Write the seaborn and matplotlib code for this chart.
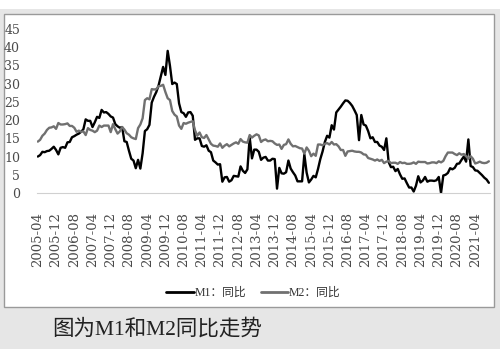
import matplotlib
matplotlib.use('Agg')
import matplotlib.pyplot as plt
import matplotlib.patches as patches
import pandas as pd
import seaborn as sns

# monthly YoY growth (%), 2005-04 .. 2021-10
months = pd.period_range('2005-04', '2021-10', freq='M').strftime('%Y-%m')

m1 = [10.0, 10.4, 11.3, 11.2, 11.5, 11.6, 12.1, 12.7, 11.8,
      10.6, 12.4, 12.6, 12.4, 13.9, 14.0, 15.3, 15.6, 16.0, 16.3, 16.8, 17.5,
      20.2, 19.8, 19.8, 18.1, 19.4, 20.9, 20.6, 22.8, 22.1, 22.2, 21.7, 21.0,
      20.7, 18.9, 18.3, 17.9, 18.1, 14.2, 14.0, 11.6, 9.4, 8.9, 6.8, 9.1,
      6.7, 10.9, 17.0, 17.5, 18.7, 24.8, 26.4, 27.7, 29.5, 32.0, 34.6, 32.4,
      39.0, 34.9, 29.9, 30.3, 29.9, 24.6, 22.2, 21.9, 20.9, 22.1, 22.2, 21.2,
      14.6, 15.0, 15.0, 12.9, 12.7, 13.1, 11.6, 11.2, 8.9, 8.4, 7.8, 7.9,
      3.1, 4.3, 4.4, 3.1, 3.5, 4.7, 4.6, 4.5, 7.3, 6.1, 5.5, 6.5,
      15.3, 9.5, 11.9, 11.9, 11.3, 9.1, 9.7, 9.9, 8.9, 8.9, 9.4, 9.3,
      1.2, 6.9, 5.4, 5.3, 5.7, 8.9, 6.7, 5.7, 4.8, 3.2, 3.2, 3.2,
      10.6, 5.6, 2.9, 3.7, 4.7, 4.3, 6.6, 9.3, 11.4, 14.0, 15.7, 15.2,
      18.6, 17.4, 22.1, 22.9, 23.7, 24.6, 25.4, 25.3, 24.7, 23.9, 22.7, 21.4,
      14.5, 21.4, 18.8, 18.5, 17.0, 15.0, 15.3, 14.0, 14.0, 13.0, 12.7, 11.8,
      15.0, 8.5, 7.1, 7.2, 6.0, 6.6, 5.1, 3.9, 4.0, 2.7, 1.5, 1.5,
      0.4, 2.0, 4.6, 2.9, 3.4, 4.4, 3.1, 3.4, 3.4, 3.3, 3.5, 4.4,
      0.0, 4.8, 5.0, 5.5, 6.8, 6.5, 6.9, 8.0, 8.1, 9.1, 10.0, 8.6,
      14.7, 7.4, 7.1, 6.2, 6.1, 5.5, 4.9, 4.2, 3.7, 2.8]

m2 = [14.1, 14.6, 15.7, 16.3, 17.3, 17.9, 18.0, 18.3, 17.6,
      19.2, 18.8, 18.8, 18.9, 19.1, 18.4, 18.4, 17.9, 16.8, 17.1, 16.8, 16.9,
      15.9, 17.8, 17.3, 17.1, 16.7, 17.1, 18.5, 18.1, 18.5, 18.5, 18.5, 16.7,
      18.9, 17.5, 16.3, 16.9, 18.1, 17.4, 16.4, 16.0, 15.3, 15.0, 14.8, 17.8,
      18.8, 20.5, 25.5, 26.0, 25.7, 28.5, 28.4, 28.5, 29.3, 29.4, 29.7, 27.7,
      26.0, 25.5, 22.5, 21.5, 21.0, 18.5, 17.6, 19.2, 19.0, 19.3, 19.5, 19.7,
      17.2, 15.7, 16.6, 15.3, 15.1, 15.9, 14.7, 13.5, 13.0, 12.9, 12.7, 13.6,
      12.4, 13.0, 13.4, 12.8, 13.2, 13.6, 13.9, 13.5, 14.8, 14.1, 13.9, 13.8,
      15.9, 15.2, 15.7, 16.1, 15.8, 14.0, 14.5, 14.7, 14.2, 14.3, 14.2, 13.6,
      13.2, 13.3, 12.1, 13.2, 13.4, 14.7, 13.5, 12.8, 12.9, 12.6, 12.3, 12.2,
      10.8, 12.5, 11.6, 10.1, 10.8, 10.2, 13.3, 13.3, 13.1, 13.5, 13.7, 13.3,
      14.0, 13.3, 13.4, 12.8, 11.8, 11.8, 10.2, 11.4, 11.5, 11.6, 11.4, 11.3,
      11.3, 11.1, 10.6, 10.5, 9.6, 9.4, 9.2, 8.9, 9.2, 8.8, 9.1, 8.2,
      8.6, 8.8, 8.2, 8.3, 8.3, 8.0, 8.5, 8.2, 8.3, 8.0, 8.0, 8.1,
      8.4, 8.0, 8.6, 8.5, 8.5, 8.5, 8.1, 8.2, 8.4, 8.4, 8.2, 8.7,
      8.4, 8.8, 10.1, 11.1, 11.1, 11.1, 10.7, 10.4, 10.9, 10.5, 10.7, 10.1,
      9.4, 10.1, 9.4, 8.1, 8.3, 8.6, 8.3, 8.2, 8.3, 8.7]

series_names = ['M1：同比', 'M2：同比']
series_colors = ['#000000', '#707070']
y_ticks = [0, 5, 10, 15, 20, 25, 30, 35, 40, 45]
caption = '图为M1和M2同比走势'

df = pd.DataFrame({'idx': range(len(months)), 'month': months,
                   series_names[0]: m1, series_names[1]: m2})
df_long = df.melt(id_vars=['idx', 'month'], var_name='series', value_name='value')

sns.set_style('white')
fam = ['Liberation Serif', 'Noto Sans CJK SC']
tick_fam = ['DejaVu Serif']
plt.rcParams['font.family'] = fam

fig = plt.figure(figsize=(5, 3.62), dpi=100)
fig.patch.set_facecolor('white')

# screenshot frame: gray band and white panel
fig.patches.append(patches.Rectangle((0, 1 - 349 / 362), 1, (349 - 9) / 362,
                                     transform=fig.transFigure, facecolor='#e6e6e6',
                                     edgecolor='none', zorder=-3))
fig.patches.append(patches.Rectangle((3.5 / 500, 1 - 307 / 362), 490.5 / 500, 293 / 362,
                                     transform=fig.transFigure, facecolor='white',
                                     edgecolor='#9a9a9a', linewidth=1.0, zorder=-2))

ax = fig.add_axes([36.7 / 500, 1 - 193 / 362, (490 - 36.7) / 500, (193 - 29) / 362])
ax.set_facecolor('none')

sns.lineplot(data=df_long, x='idx', y='value', hue='series', palette=series_colors,
             linewidth=1.7, ax=ax, legend=False)

n = len(months)
ax.set_xlim(-0.5, n - 0.5)
ax.set_ylim(0, 45)
ax.set_yticks(y_ticks)
ax.set_yticklabels([str(v) for v in y_ticks], fontsize=9, color='#4a4a4a', family=tick_fam)
lab_pos = list(range(0, n, 8))
ax.set_xticks(lab_pos)
ax.set_xticklabels([months[i] for i in lab_pos], rotation=90, fontsize=9.5,
                   color='#4a4a4a', family=tick_fam)
ax.set_xticks([p - 0.5 for p in range(0, n + 8, 8) if p - 0.5 <= n - 0.5], minor=True)
ax.tick_params(axis='x', which='major', length=0, pad=14)
ax.tick_params(axis='x', which='minor', length=4, color='#d0d0d0', width=0.8)
ax.tick_params(axis='y', length=0, pad=12)
ax.set_xlabel('')
ax.set_ylabel('')
for s in ['top', 'right', 'left']:
    ax.spines[s].set_visible(False)
ax.spines['bottom'].set_color('#d0d0d0')
ax.spines['bottom'].set_linewidth(0.8)

handles = [plt.Line2D([], [], color=c, linewidth=2) for c in series_colors]
fig.legend(handles, series_names, loc='center', bbox_to_anchor=(0.507, 1 - 293 / 362),
           ncol=2, frameon=False, fontsize=8.5, handlelength=2.3, handletextpad=0.1,
           columnspacing=1.2, labelcolor='#333333')

fig.text(52 / 500, 1 - 329 / 362, caption, fontsize=15.5, color='#222222',
         ha='left', va='center', family=fam)

fig.savefig('out.png', dpi=100)
